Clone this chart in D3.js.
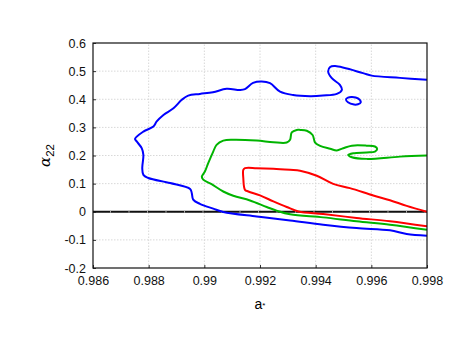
<!DOCTYPE html>
<html>
<head>
<meta charset="utf-8">
<script src="https://cdn.jsdelivr.net/npm/d3@7"></script>
<style>
  body { margin: 0; background: #fff; }
  text { font-family: "Liberation Sans", Arial, sans-serif; }
</style>
</head>
<body>
<div id="root"></div>
<script>
// tick values
const xTicks = [0.986, 0.988, 0.99, 0.992, 0.994, 0.996, 0.998];
const yTicks = [-0.2, -0.1, 0, 0.1, 0.2, 0.3, 0.4, 0.5, 0.6];

// contour lines, [a*, alpha22]
const blueOuter = [
  [0.998, 0.469], [0.99703, 0.476], [0.99601, 0.484], [0.99570, 0.493], [0.99470, 0.518],
  [0.99452, 0.515], [0.99445, 0.498], [0.99458, 0.475], [0.99487, 0.451], [0.99494, 0.433],
  [0.99476, 0.419], [0.99426, 0.413], [0.99380, 0.411], [0.99319, 0.415], [0.99272, 0.427],
  [0.99236, 0.457], [0.99206, 0.463], [0.99175, 0.458], [0.99146, 0.436], [0.99128, 0.433],
  [0.99080, 0.437], [0.99031, 0.425], [0.98984, 0.419], [0.98942, 0.413], [0.98919, 0.398],
  [0.98889, 0.368], [0.98853, 0.344], [0.98829, 0.321], [0.98817, 0.303], [0.98781, 0.285],
  [0.98751, 0.259], [0.98757, 0.250], [0.98775, 0.226], [0.98781, 0.202], [0.98777, 0.155],
  [0.98781, 0.131], [0.98799, 0.120], [0.98877, 0.102], [0.98949, 0.081], [0.98955, 0.066],
  [0.98960, 0.043], [0.98984, 0.028], [0.99032, 0.011], [0.99068, -0.001], [0.99188, -0.017],
  [0.99308, -0.031], [0.99427, -0.046], [0.99547, -0.058], [0.99667, -0.066], [0.99727, -0.079],
  [0.998, -0.085]
];
const blueIsland = [
  [0.99509, 0.400], [0.99516, 0.406], [0.99531, 0.408], [0.99552, 0.403], [0.99562, 0.389],
  [0.99552, 0.382], [0.99538, 0.381], [0.99516, 0.389]
];
const greenLine = [
  [0.998, 0.200], [0.99703, 0.196], [0.99583, 0.188], [0.99530, 0.194], [0.99517, 0.202],
  [0.99535, 0.208], [0.99583, 0.211], [0.99613, 0.214], [0.99621, 0.223], [0.99613, 0.232],
  [0.99583, 0.235], [0.99530, 0.235], [0.99499, 0.226], [0.99476, 0.218], [0.99452, 0.224],
  [0.99416, 0.234], [0.99398, 0.246], [0.99389, 0.273], [0.99368, 0.288], [0.99344, 0.291],
  [0.99332, 0.291], [0.99314, 0.282], [0.99308, 0.256], [0.99296, 0.246], [0.99248, 0.247],
  [0.99188, 0.253], [0.99104, 0.256], [0.99068, 0.253], [0.99044, 0.238], [0.99032, 0.214],
  [0.99014, 0.173], [0.99002, 0.143], [0.98991, 0.125], [0.98996, 0.114], [0.99026, 0.098],
  [0.99068, 0.072], [0.99104, 0.057], [0.99164, 0.040], [0.99224, 0.017], [0.99260, 0.004],
  [0.99308, -0.009], [0.99427, -0.020], [0.99547, -0.034], [0.99667, -0.046], [0.998, -0.064]
];
const redLine = [
  [0.998, 0.000], [0.99727, 0.021], [0.99667, 0.041], [0.99607, 0.058], [0.99523, 0.084],
  [0.99463, 0.099], [0.99404, 0.128], [0.99344, 0.146], [0.99308, 0.149], [0.99248, 0.153],
  [0.99188, 0.155], [0.99146, 0.155], [0.99140, 0.149], [0.99140, 0.120], [0.99146, 0.078],
  [0.99158, 0.072], [0.99200, 0.058], [0.99248, 0.037], [0.99296, 0.017], [0.99338, 0.001],
  [0.99427, -0.008], [0.99547, -0.022], [0.99667, -0.034], [0.998, -0.052]
];

const width = 463, height = 358;
const margin = {left: 93, right: 36, top: 43, bottom: 90};

const svg = d3.select('#root').append('svg')
  .attr('width', width)
  .attr('height', height);

const x = d3.scaleLinear().domain([0.986, 0.998]).range([margin.left, width - margin.right]);
const y = d3.scaleLinear().domain([-0.2, 0.6]).range([height - margin.bottom, margin.top]);

// grid
svg.append('g')
  .selectAll('line.gx')
  .data(xTicks.slice(1, -1))
  .join('line')
  .attr('x1', d => x(d)).attr('x2', d => x(d))
  .attr('y1', y(-0.2)).attr('y2', y(0.6))
  .attr('stroke', '#d8d8d8')
  .attr('stroke-dasharray', '1.5,1.5');
svg.append('g')
  .selectAll('line.gy')
  .data(yTicks.slice(1, -1))
  .join('line')
  .attr('x1', x(0.986)).attr('x2', x(0.998))
  .attr('y1', d => y(d)).attr('y2', d => y(d))
  .attr('stroke', '#d8d8d8')
  .attr('stroke-dasharray', '1.5,1.5');

// axes
const xAxis = d3.axisBottom(x).tickValues(xTicks).tickSize(-3).tickPadding(6)
  .tickFormat(d => String(+d.toFixed(3)));
const yAxis = d3.axisLeft(y).tickValues(yTicks).tickSize(-3).tickPadding(7)
  .tickFormat(d => String(+d.toFixed(1)));

const gx = svg.append('g')
  .attr('transform', `translate(0,${y(-0.2)})`)
  .call(xAxis);
const gy = svg.append('g')
  .attr('transform', `translate(${x(0.986)},0)`)
  .call(yAxis);
[gx, gy].forEach(g => {
  g.select('.domain').remove();
  g.selectAll('text').attr('font-size', 12.5).attr('fill', '#111')
    .style('font-family', '"Liberation Sans", Arial, sans-serif');
  g.selectAll('line').attr('stroke', '#333');
});
gx.selectAll('text').attr('dy', '0.85em');

// clip
svg.append('clipPath').attr('id', 'clip')
  .append('rect')
  .attr('x', x(0.986)).attr('y', y(0.6))
  .attr('width', x(0.998) - x(0.986))
  .attr('height', y(-0.2) - y(0.6));

const plot = svg.append('g').attr('clip-path', 'url(#clip)');

// zero line
plot.append('line')
  .attr('x1', x(0.986)).attr('x2', x(0.998))
  .attr('y1', y(0)).attr('y2', y(0))
  .attr('stroke', '#111')
  .attr('stroke-width', 2.2);
plot.append('line')
  .attr('x1', x(0.986)).attr('x2', x(0.998))
  .attr('y1', y(0)).attr('y2', y(0))
  .attr('stroke', '#aaa')
  .attr('stroke-width', 2.2)
  .attr('stroke-dasharray', '1,17.5')
  .attr('stroke-dashoffset', -17);

const line = d3.line().x(d => x(d[0])).y(d => y(d[1])).curve(d3.curveCatmullRom.alpha(0.5));
const loop = d3.line().x(d => x(d[0])).y(d => y(d[1])).curve(d3.curveCatmullRomClosed.alpha(0.5));

const contours = [
  {pts: redLine, color: '#ff0000', closed: false},
  {pts: greenLine, color: '#00b400', closed: false},
  {pts: blueOuter, color: '#0000ff', closed: false},
  {pts: blueIsland, color: '#0000ff', closed: true}
];
plot.selectAll('path.c')
  .data(contours)
  .join('path')
  .attr('d', d => d.closed ? loop(d.pts) : line(d.pts))
  .attr('fill', 'none')
  .attr('stroke', d => d.color)
  .attr('stroke-width', 2);

// frame
svg.append('rect')
  .attr('x', x(0.986)).attr('y', y(0.6))
  .attr('width', x(0.998) - x(0.986))
  .attr('height', y(-0.2) - y(0.6))
  .attr('fill', 'none')
  .attr('stroke', '#111')
  .attr('stroke-width', 1.2);

// labels
svg.append('text')
  .attr('x', (x(0.986) + x(0.998)) / 2)
  .attr('y', 309)
  .attr('text-anchor', 'middle')
  .attr('font-size', 14)
  .html('a<tspan font-size="8" dy="-1">*</tspan>');

const yl = svg.append('text')
  .attr('transform', `translate(50,${(y(0.6) + y(-0.2)) / 2}) rotate(-90)`)
  .attr('text-anchor', 'middle')
  .attr('font-size', 15);
yl.append('tspan').style('font-family', '"DejaVu Serif", serif').attr('font-style', 'italic').text('α');
yl.append('tspan').attr('font-size', 11.5).attr('dy', 4).text('22');
</script>
</body>
</html>
